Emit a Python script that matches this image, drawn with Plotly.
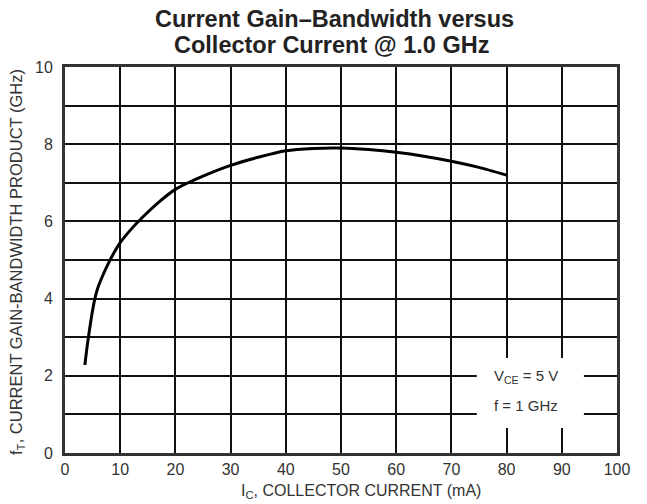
import plotly.graph_objects as go

# Collector current (mA) and current gain-bandwidth product fT (GHz)
ic_ma = [3.6, 4, 4.5, 5, 5.5, 6, 7, 8, 9, 10, 12, 14, 17, 20, 25, 30, 35, 40, 45, 50, 55, 60, 65, 70, 75, 80]
ft_ghz = [2.28, 2.75, 3.25, 3.7, 4.05, 4.3, 4.65, 4.95, 5.22, 5.45, 5.8, 6.1, 6.5, 6.83, 7.17, 7.45, 7.66, 7.83, 7.89, 7.9, 7.86, 7.79, 7.69, 7.56, 7.4, 7.2]

x_ticks = [0, 10, 20, 30, 40, 50, 60, 70, 80, 90, 100]
y_ticks = [0, 2, 4, 6, 8, 10]

title_lines = ["Current Gain–Bandwidth versus", "Collector Current @ 1.0 GHz"]
x_title = "I<sub>C</sub>, COLLECTOR CURRENT (mA)"
y_title = "f<sub>T</sub>, CURRENT GAIN-BANDWIDTH PRODUCT (GHz)"
note_lines = ["V<sub>CE</sub> = 5 V", "f = 1 GHz"]

sans = "Liberation Sans, Arial, sans-serif"
text_color = "#333"

fig = go.Figure()
fig.add_trace(go.Scatter(
    x=ic_ma, y=ft_ghz, mode="lines",
    line=dict(color="black", width=3, shape="spline", smoothing=0.6),
    hoverinfo="skip", showlegend=False,
))

# white panel behind the test-condition note
fig.add_shape(type="rect", xref="x", yref="y", x0=74.6, x1=94, y0=0.65, y1=2.46,
              fillcolor="white", line=dict(width=0), layer="above")
for txt, yv in zip(note_lines, [1.97, 1.22]):
    fig.add_annotation(
        x=83.5, y=yv, xref="x", yref="y", showarrow=False,
        text=txt, xanchor="center", yanchor="middle",
        font=dict(family=sans, size=15, color=text_color),
    )

# two-line bold heading
for txt, xpx, ypx in zip(title_lines, [334, 331], [19, 45]):
    fig.add_annotation(
        x=(xpx - 65) / 552, y=1 + (67 - ypx) / 386, xref="paper", yref="paper",
        showarrow=False, text=f"<b>{txt}</b>", xanchor="center", yanchor="middle",
        font=dict(family=sans, size=23.5, color="#222"),
    )

# axis titles
fig.add_annotation(
    x=(361 - 65) / 552, y=-(492 - 453) / 386, xref="paper", yref="paper",
    showarrow=False, text=x_title, xanchor="center", yanchor="middle",
    font=dict(family=sans, size=16, color=text_color),
)
fig.add_annotation(
    x=(17 - 65) / 552, y=(453 - 262) / 386, xref="paper", yref="paper",
    showarrow=False, text=y_title, textangle=-90, xanchor="center", yanchor="middle",
    font=dict(family=sans, size=16.5, color=text_color),
)

fig.update_layout(
    width=647, height=504,
    margin=dict(l=65, r=30, t=67, b=51),
    paper_bgcolor="white", plot_bgcolor="white",
    xaxis=dict(
        range=[0, 100], tickvals=x_ticks, ticktext=[str(v) for v in x_ticks],
        showgrid=True, gridcolor="#111", gridwidth=2,
        showline=True, linecolor="#333", linewidth=3, mirror=True,
        ticks="", zeroline=False, ticklabelstandoff=0,
        tickfont=dict(family=sans, size=16, color=text_color),
    ),
    yaxis=dict(
        range=[0, 10], tickvals=y_ticks, ticktext=[str(v) for v in y_ticks],
        showgrid=True, gridcolor="#111", gridwidth=2,
        minor=dict(dtick=1, showgrid=True, gridcolor="#111", gridwidth=2),
        showline=True, linecolor="#333", linewidth=3, mirror=True,
        ticks="", zeroline=False, ticklabelstandoff=6,
        tickfont=dict(family=sans, size=16, color=text_color),
    ),
)

fig.write_html("out.html")
